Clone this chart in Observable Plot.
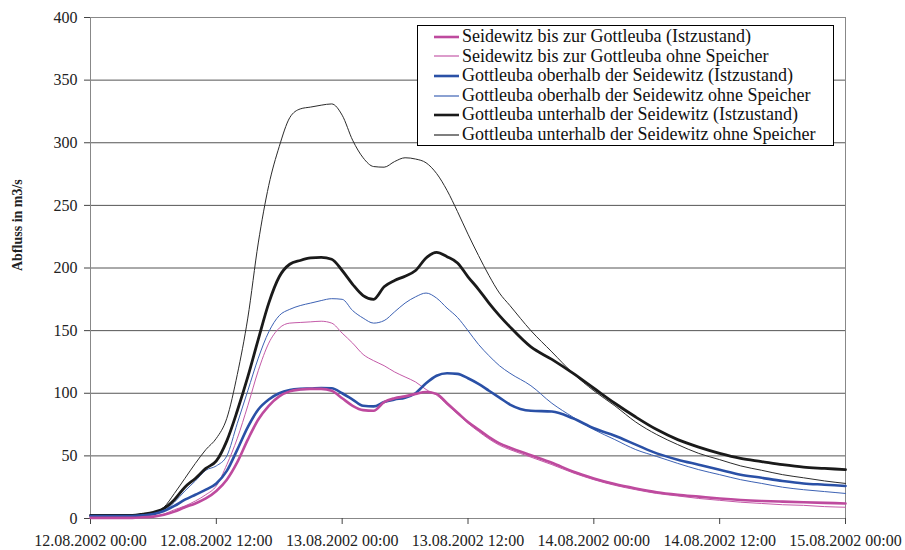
<!DOCTYPE html>
<html>
<head>
<meta charset="utf-8">
<script src="https://cdn.jsdelivr.net/npm/d3@7"></script>
<script src="https://cdn.jsdelivr.net/npm/@observablehq/plot@0.6"></script>
<style>
  html, body { margin: 0; padding: 0; background: #fff; }
  #wrap { position: relative; width: 905px; height: 550px; font-family: "Liberation Serif", "Times New Roman", serif; }
  #legend { position: absolute; left: 417px; top: 25px; width: 417px; height: 121px; border: 1px solid #000; background: #fff; box-sizing: border-box; padding-top: 1px; }
  .row { height: 19.6px; line-height: 19.6px; display: flex; align-items: center; font-size: 18px; color: #111; white-space: nowrap; }
  .row svg { margin-left: 16px; margin-right: 3px; flex: none; }
</style>
</head>
<body>
<div id="wrap"></div>
<script>
// time in hours from 12.08.2002 00:00
const times = [0,2,4,5,6,7,8,9,10,11,12,13,14,15,16,17,18,19,20,21,22,23,24,25,26,27,28,29,30,31,32,33,34,35,36,37,38,39,40,42,44,46,48,50,52,54,56,58,60,62,64,66,68,70,72];

const seidewitzIst = [0.5,0.5,0.5, 1,1.5,3,5.5,9,12,16,22,31,45, 63,79,90,97.5,101.5,103,103.5,103.5,102,96, 90,86.5,86,93,96,97.5,99.5,101,99.5,92, 84.5,77,71,65,60,56.5, 50.5,44.5,37.5,32,27.5,24,21,19,17.5,16,14.8,14,13.5,13,12.5,12];
const seidewitzOhne = [0.3,0.3,0.3, 0.8,1.5,3.5,7,10,14,19,26,43,64, 90,118,140,152,156,156.5,157,157.5,156,148, 140,131,126,122,117,113,109,103,98.5,91, 83.5,76,69.5,63.5,58.5,55, 49,43,36.5,31,26.5,23,20,18,16,14.5,13,12,11,10.5,9.5,9];
const gottleubaOberIst = [2,2,2, 2.5,3.5,6,10,15,19,23,28,38,55, 73,87,95,100,102.5,103.5,103.8,104.2,104,100, 95,90,89.5,93,95,96.5,100,108,114,116, 115.5,112,107.5,102,96.5,91, 86,85.4,80,72,66,59,52,47,43,39,35,32.5,30,28,27,26];
const gottleubaOberOhne = [2,2,2, 2.5,3.5,6,13,22,30,38.5,42,50,76, 102,128,149,162,167,170,172,174,175.5,175, 166,160,156,158,165,172,177,180,176,168, 160.5,150,139,130,122,116, 106,92,81,71,63,55,49.5,44,39,35,31,28,25,23,21.5,20];
const gottleubaUnterIst = [2.5,2.5,2.5, 3.5,5,8,15,25,32,40,46,62,86, 113,143,172,193,203,206,208,208.5,207,198, 187,178,175,185,190,193.5,198,208,212.5,209, 204,193,183,172,162,153, 137,127,116,104,92,81,71,63,57,52,48,45.5,43,41,40,39];
const gottleubaUnterOhne = [2.5,2.5,2.5, 3.5,5,9,20,32,44,55,64,80,115, 160,220,266,297,320,327,328.5,330,331,322, 302,288,281,280.5,285,288,287,284,275.5,262, 245,227,210,194,180,170, 150,133,116,102,90,77,67,59,52,47,42,38.5,35,32.5,30,28];

const seriesNames = [
  "Seidewitz bis zur Gottleuba (Istzustand)",
  "Seidewitz bis zur Gottleuba ohne Speicher",
  "Gottleuba oberhalb der Seidewitz (Istzustand)",
  "Gottleuba oberhalb der Seidewitz ohne Speicher",
  "Gottleuba unterhalb der Seidewitz (Istzustand)",
  "Gottleuba unterhalb der Seidewitz ohne Speicher"
];
const seriesValues = [seidewitzIst, seidewitzOhne, gottleubaOberIst, gottleubaOberOhne, gottleubaUnterIst, gottleubaUnterOhne];
const seriesColors = ["#BE4A9E", "#C45AA8", "#2A50A6", "#3D62B4", "#1a1a1a", "#2b2b2b"];
const seriesWidths = [2.6, 1, 2.6, 1, 2.8, 1];

const xTickHours = [0,12,24,36,48,60,72];
const xTickLabels = ["12.08.2002 00:00","12.08.2002 12:00","13.08.2002 00:00","13.08.2002 12:00","14.08.2002 00:00","14.08.2002 12:00","15.08.2002 00:00"];
const yTicks = [0,50,100,150,200,250,300,350,400];
const yLabel = "Abfluss in m3/s";

const rows = [];
seriesValues.forEach((vals, s) => times.forEach((t, i) => rows.push({t, v: vals[i], s})));

// draw thin first, thick on top
const drawOrder = [5,3,1,4,2,0];
const lineMarks = drawOrder.map(s => Plot.line(rows.filter(r => r.s === s), {
  x: "t", y: "v", stroke: seriesColors[s], strokeWidth: seriesWidths[s], curve: "monotone-x"
}));

const chart = Plot.plot({
  width: 905, height: 550,
  marginLeft: 90, marginRight: 60, marginTop: 17, marginBottom: 32,
  style: {fontFamily: "'Liberation Serif', 'Times New Roman', serif", fontSize: "16px", color: "#222", background: "#fff"},
  x: {domain: [0, 72]},
  y: {domain: [0, 400]},
  marks: [
    Plot.gridY(yTicks, {stroke: "#555", strokeOpacity: 1, strokeWidth: 1}),
    Plot.frame({stroke: "#888"}),
    Plot.axisY({ticks: yTicks, tickSize: 6, tickPadding: 7, label: null, stroke: "#444"}),
    Plot.axisX({ticks: xTickHours, tickFormat: (d) => xTickLabels[xTickHours.indexOf(d)], tickSize: 6, tickPadding: 10, label: null, stroke: "#444"}),
    Plot.text([yLabel], {frameAnchor: "left", dx: -73, dy: 3, rotate: -90, fontWeight: "bold", fontSize: 14, fill: "#222"}),
    ...lineMarks
  ]
});

const wrap = document.getElementById("wrap");
wrap.appendChild(chart);

const legend = document.createElement("div");
legend.id = "legend";
seriesNames.forEach((name, s) => {
  const row = document.createElement("div");
  row.className = "row";
  row.innerHTML = `<svg width="25" height="6"><line x1="0" x2="25" y1="3" y2="3" stroke="${seriesColors[s]}" stroke-width="${seriesWidths[s] === 1 ? 1.2 : 2.6}"/></svg><span>${name}</span>`;
  legend.appendChild(row);
});
wrap.appendChild(legend);
</script>
</body>
</html>
